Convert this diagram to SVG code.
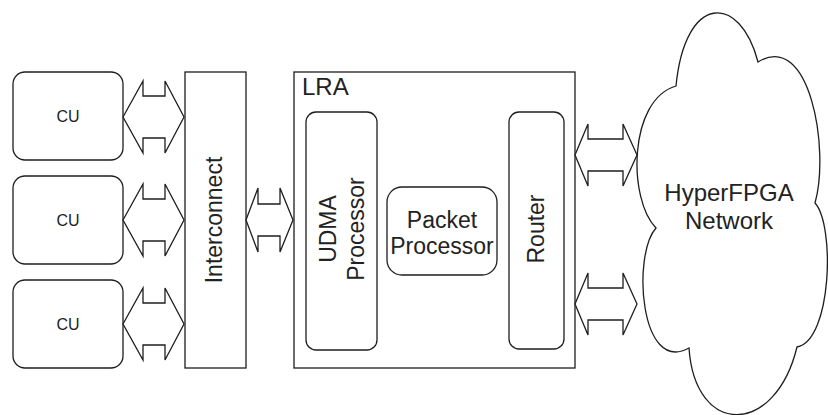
<svg xmlns="http://www.w3.org/2000/svg" width="828" height="415" viewBox="0 0 828 415">
<style>
.box{fill:#fff;stroke:#1e1e1e;stroke-width:1.3}
.arr{fill:#fff;stroke:#1e1e1e;stroke-width:1.3;stroke-linejoin:miter}
.t{font-family:"Liberation Sans",Arial,sans-serif;fill:#222;text-anchor:middle}
.s{font-size:16px}
.m{font-size:23px}
.l{font-size:24px}
</style>
<rect width="828" height="415" fill="#fff"/>
<g id="cu1"><rect class="box" x="13" y="72" width="110" height="88" rx="12"/><text class="t s" x="68" y="122">CU</text></g>
<g id="cu2"><rect class="box" x="13" y="176" width="110" height="88" rx="12"/><text class="t s" x="68" y="226">CU</text></g>
<g id="cu3"><rect class="box" x="13" y="280" width="110" height="88" rx="12"/><text class="t s" x="68" y="330">CU</text></g>
<g id="interconnect"><rect class="box" x="185" y="72" width="61" height="296"/><text class="t m" transform="translate(222,220) rotate(-90)">Interconnect</text></g>
<g id="lra"><rect class="box" x="294" y="72" width="281" height="296"/><text class="t l" x="302" y="95" style="text-anchor:start">LRA</text></g>
<g id="udma"><rect class="box" x="306" y="112" width="71" height="238" rx="10"/><text class="t m" transform="translate(336,229) rotate(-90)">UDMA</text><text class="t m" transform="translate(364,229) rotate(-90)">Processor</text></g>
<g id="packet"><rect class="box" x="387" y="187" width="110" height="88" rx="15"/><text class="t m" x="442" y="228">Packet</text><text class="t m" x="442" y="254">Processor</text></g>
<g id="router"><rect class="box" x="509" y="112" width="55" height="237" rx="10"/><text class="t m" transform="translate(544,229) rotate(-90)">Router</text></g>
<g id="network"><path class="box" d="M676,86 C685,-7 740,-7 758,62 C810,30 830,150 815,203 C835,225 832,340 797,347 C775,437 695,437 689,348 C640,375 632,255 656,228 C628,200 628,100 676,86 Z"/><text class="t l" x="729" y="201">HyperFPGA</text><text class="t l" x="729" y="229">Network</text></g>
<g id="connectors">
<polygon class="arr" points="123,117 143,81 143,96 165,96 165,81 184,117 165,153 165,138 143,138 143,153"/>
<polygon class="arr" points="123,220 143,184 143,199 165,199 165,184 184,220 165,256 165,241 143,241 143,256"/>
<polygon class="arr" points="123,324 143,288 143,303 165,303 165,288 184,324 165,360 165,345 143,345 143,360"/>
<polygon class="arr" points="246,220 258,188 258,204 280,204 280,188 293,220 280,252 280,236 258,236 258,252"/>
<polygon class="arr" points="575,155 588,124 588,139 623,139 623,124 637,155 623,186 623,171 588,171 588,186"/>
<polygon class="arr" points="575,304 588,273 588,288 623,288 623,273 637,304 623,335 623,320 588,320 588,335"/>
</g>
</svg>
